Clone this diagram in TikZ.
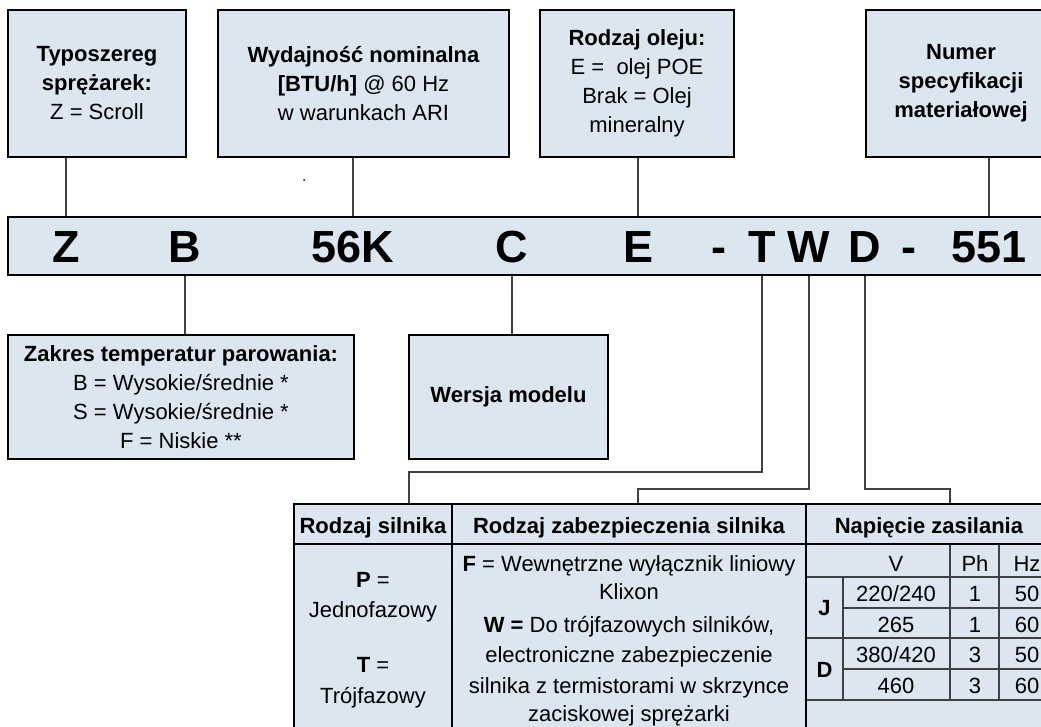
\documentclass[tikz,border=0pt]{standalone}
\usepackage{fontspec}
\setmainfont{Liberation Sans}
\definecolor{boxfill}{RGB}{220,230,241}
\definecolor{linegray}{RGB}{64,64,64}
\tikzset{
  box/.style={draw, line width=2pt, fill=boxfill, align=center, inner sep=0pt,
    font=\fontsize{22}{29}\selectfont},
  conn/.style={draw=linegray, line width=1.4pt},
  code/.style={anchor=base, inner sep=0pt, font=\fontsize{45}{45}\selectfont\bfseries},
  txt/.style={anchor=base, inner sep=0pt, font=\fontsize{22}{29}\selectfont},
  gridline/.style={draw=linegray, line width=1.5pt},
  frame/.style={draw=black, line width=2.2pt},
}
\begin{document}
\begin{tikzpicture}[x=1pt,y=-1pt]
\useasboundingbox (0,0) rectangle (1041,727);
\clip (0,0) rectangle (1041,727);

\node[box, minimum width=178, minimum height=147] (seria) at (97,83.5)
  {\textbf{Typoszereg}\\\textbf{sprężarek:}\\Z = Scroll};
\node[box, minimum width=291, minimum height=147] (wyd) at (363.5,83.5)
  {\textbf{Wydajność nominalna}\\\textbf{[BTU/h]} @ 60 Hz\\w warunkach ARI};
\node[box, minimum width=194, minimum height=147] (olej) at (637,83.5)
  {\textbf{Rodzaj oleju:}\\E = \ olej POE\\Brak = Olej\\mineralny};
\node[box, minimum width=190, minimum height=147] (numer) at (961,83.5)
  {\textbf{Numer}\\\textbf{specyfikacji}\\\textbf{materiałowej}};
\fill (304,180) circle (1);

\node[box, minimum width=1060, minimum height=58] (bar) at (538,246) {};
\node[code] (cZ) at (66,263) {Z};
\node[code] (cB) at (185,263) {B};
\node[code] (cK) at (353,263) {56K};
\node[code] (cC) at (512,263) {C};
\node[code] (cE) at (638,263) {E};
\node[code] (d1) at (719,263) {-};
\node[code] (cT) at (762,263) {T};
\node[code] (cW) at (809,263) {W};
\node[code] (cD) at (865,263) {D};
\node[code] (d2) at (909,263) {-};
\node[code] (c551) at (989,263) {551};

\node[box, minimum width=346, minimum height=124] (zakres) at (181,397)
  {\textbf{Zakres temperatur parowania:}\\B = Wysokie/średnie *\\S = Wysokie/średnie *\\F = Niskie **};
\node[box, minimum width=199, minimum height=124] (wersja) at (508.5,397)
  {\textbf{Wersja modelu}};

\draw[conn] (cZ |- seria.south) -- (cZ |- bar.north);
\draw[conn] (cK |- wyd.south) -- (cK |- bar.north);
\draw[conn] (cE |- olej.south) -- (cE |- bar.north);
\draw[conn] (c551 |- numer.south) -- (c551 |- bar.north);
\draw[conn] (cB |- bar.south) -- (cB |- zakres.north);
\draw[conn] (cC |- bar.south) -- (cC |- wersja.north);

\coordinate (kT) at (409,472);
\coordinate (kW) at (638,489);
\coordinate (kD) at (950,489);
\coordinate (tabtop) at (0,504);
\draw[conn] (cT |- bar.south) |- (kT) -- (kT |- tabtop);
\draw[conn] (cW |- bar.south) |- (kW) -- (kW |- tabtop);
\draw[conn] (cD |- bar.south) |- (kD) -- (kD |- tabtop);

\fill[boxfill] (294,504) rectangle (1060,740);
\draw[gridline] (806,577) -- (1060,577);
\draw[gridline] (843,608) -- (1060,608);
\draw[gridline] (806,638) -- (1060,638);
\draw[gridline] (843,669) -- (1060,669);
\draw[gridline] (806,700) -- (1060,700);
\draw[gridline] (843,577) -- (843,700);
\draw[gridline] (950,544) -- (950,700);
\draw[gridline] (999,544) -- (999,700);
\draw[frame] (294,740) -- (294,504) -- (1060,504);
\draw[frame] (294,544) -- (1060,544);
\draw[frame] (452,504) -- (452,740);
\draw[frame] (806,504) -- (806,740);

\node[txt] (hsil) at (373,533) {\textbf{Rodzaj silnika}};
\node[txt] (hzab) at (629,533) {\textbf{Rodzaj zabezpieczenia silnika}};
\node[txt] (hnap) at (929,533) {\textbf{Napięcie zasilania}};

\node[txt] (s1) at (373,587) {\textbf{P} =};
\node[txt] (s2) at (373,617) {Jednofazowy};
\node[txt] (s3) at (373,672) {\textbf{T} =};
\node[txt] (s4) at (373,703) {Trójfazowy};

\node[txt] (z1) at (629,571) {\textbf{F} = Wewnętrzne wyłącznik liniowy};
\node[txt] (z2) at (629,599) {Klixon};
\node[txt] (z3) at (629,632) {\textbf{W =} Do trójfazowych silników,};
\node[txt] (z4) at (629,662) {electroniczne zabezpieczenie};
\node[txt] (z5) at (629,693) {silnika z termistorami w skrzynce};
\node[txt] (z6) at (629,721) {zaciskowej sprężarki};

\node[txt] (nV) at (896,571) {V};
\node[txt] (nPh) at (975,571) {Ph};
\node[txt] (nHz) at (1027,571) {Hz};
\node[txt, anchor=center] (nJ) at (824.5,608.5) {\textbf{J}};
\node[txt, anchor=center] (nD) at (824.5,669.5) {\textbf{D}};
\node[txt] (v1) at (896,601) {220/240};
\node[txt] (p1) at (975,601) {1};
\node[txt] (f1) at (1027,601) {50};
\node[txt] (v2) at (896,632) {265};
\node[txt] (p2) at (975,632) {1};
\node[txt] (f2) at (1027,632) {60};
\node[txt] (v3) at (896,662) {380/420};
\node[txt] (p3) at (975,662) {3};
\node[txt] (f3) at (1027,662) {50};
\node[txt] (v4) at (896,693) {460};
\node[txt] (p4) at (975,693) {3};
\node[txt] (f4) at (1027,693) {60};
\end{tikzpicture}
\end{document}
